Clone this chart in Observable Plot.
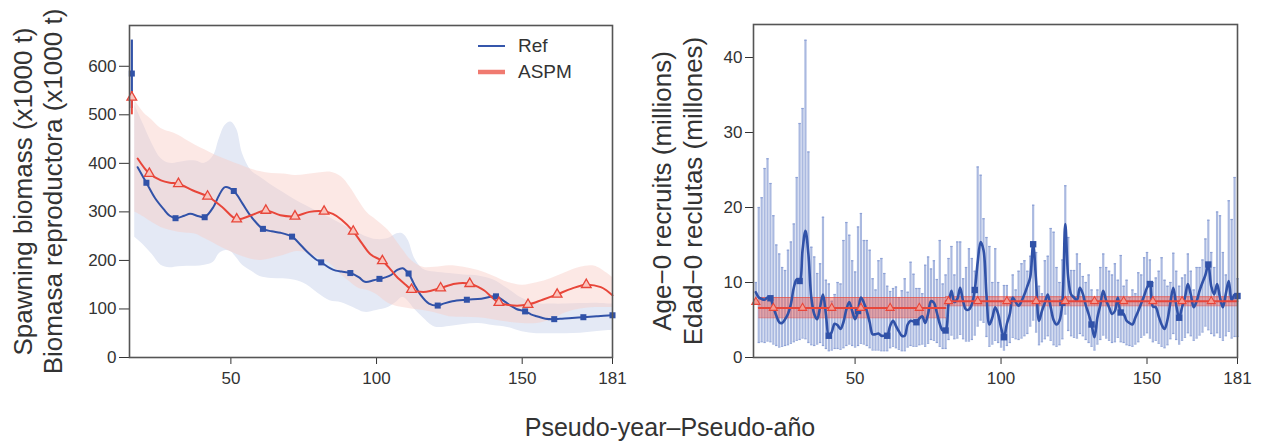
<!DOCTYPE html>
<html><head><meta charset="utf-8">
<script src="https://cdn.jsdelivr.net/npm/d3@7"></script>
<script src="https://cdn.jsdelivr.net/npm/@observablehq/plot@0.6"></script>
<style>
body{margin:0;background:#fff;font-family:"Liberation Sans",Arial,sans-serif;color:#333}
#wrap{position:relative;width:1266px;height:446px;overflow:hidden}
#row{display:flex}
#xlab{position:absolute;left:670px;top:413px;transform:translateX(-50%);font-size:25px;white-space:nowrap;line-height:normal}
#legend{position:absolute;left:476px;top:33px;font-size:19px}
#legend .it{display:flex;align-items:center;height:26px}
#legend span{margin-left:11px}
</style></head><body>
<div id="wrap"><div id="row"></div><div id="xlab">Pseudo-year–Pseudo-año</div>
<div id="legend">
<div class="it"><svg width="31" height="10"><line x1="2" x2="29" y1="5" y2="5" stroke="#3556ab" stroke-width="2"/></svg><span>Ref</span></div>
<div class="it"><svg width="31" height="10"><line x1="2" x2="29" y1="5" y2="5" stroke="#f07a70" stroke-width="4.5"/></svg><span>ASPM</span></div>
</div></div>
<script>
// ---------- shared axes ----------
const xDomain = [15.2, 181];
const xTicks = [50, 100, 150, 181];
const ssbTicks = [0, 100, 200, 300, 400, 500, 600];
const recTicks = [0, 10, 20, 30, 40];
const seriesNames = ["Ref", "ASPM"];

// ---------- left panel: spawning biomass ----------
const refStartYear = 16, refStartSSB = 585, refStartLo = 513, refStartHi = 654;
const aspmStartYear = 16, aspmStartSSB = 536, aspmStartLo = 500, aspmStartHi = 548;

const refYear = [18,21,24,27,29,31,34,36,39,41,44,46,48,51,54,57,61,64,67,71,73,76,79,81,84,86,88,91,94,96,99,101,103,105,107,109,111,113,115,118,121,123,126,131,136,141,144,146,148,151,153,155,158,161,163,166,171,176,181];
const refSSB = [392,360,328,305,292,287,292,296,291,289,310,335,351,343,317,290,265,260,257,249,238,219,203,196,184,179,177,174,165,156,159,162,165,170,180,184,173,150,130,111,107,111,116,119,121,126,115,107,100,95,89,85,80,79,80,81,83,85,87];

const aspmYear = [18,22,26,29,32,37,42,47,52,57,62,67,72,77,82,85,88,92,95,98,102,105,107,110,112,116,119,122,127,132,135,137,140,142,147,152,157,162,167,172,177,179,181];
const aspmSSB = [410,379,365,360,358,344,332,310,285,293,303,293,291,300,301,296,284,260,235,212,199,180,166,150,140,135,138,143,152,152,145,138,122,113,107,109,119,130,142,150,145,138,128];

const refBandYear = [17,20,23,26,29,32,35,38,41,44,46,48,50,52,54,57,60,64,68,72,76,80,84,88,92,96,100,104,107,109,111,113,116,120,125,130,135,140,145,150,155,160,165,170,175,181];
const refBandHi = [520,480,440,410,400,402,405,405,400,415,450,478,485,470,420,385,372,355,340,325,312,300,288,275,262,250,243,245,255,255,240,205,182,176,173,170,168,160,142,122,111,110,110,111,112,110];
const refBandLo = [248,232,212,190,185,187,188,188,190,196,214,220,218,205,190,178,167,163,162,159,150,132,117,113,103,93,97,103,115,124,115,100,82,63,64,68,70,66,62,53,49,49,49,50,53,56];

const aspmBandYear = [17,20,23,26,29,32,35,38,41,44,47,50,53,56,60,64,68,72,76,80,84,88,91,94,97,100,104,108,112,116,120,125,130,135,140,145,150,155,160,165,170,175,181];
const aspmBandHi = [530,505,489,472,465,458,447,437,428,419,411,404,397,390,383,379,378,375,377,380,382,372,350,322,297,283,262,230,200,186,186,189,186,179,168,155,149,154,163,175,186,188,165];
const aspmBandLo = [300,290,278,268,262,258,256,254,245,236,226,218,210,204,200,204,210,218,216,205,193,170,155,142,138,130,112,104,100,97,92,84,83,82,78,73,70,70,78,92,100,103,103];

// ---------- right panel: age-0 recruits (years 16..181) ----------
const recEst = [
8.7,8.0,7.8,7.7,8.0,7.9,6.7,5.6,4.7,4.6,
5.1,5.8,7.1,9.3,10.4,10.2,14.3,16.9,13.8,8.0,
5.8,5.1,6.7,8.4,5.8,2.9,3.4,4.5,4.3,3.8,
4.7,6.4,7.4,6.2,5.1,6.2,8.0,7.3,6.2,4.7,
3.1,3.1,3.2,2.9,2.9,2.9,4.2,4.9,4.2,3.5,
2.9,2.9,4.4,4.9,4.8,4.7,5.2,5.5,4.6,5.8,
7.5,7.3,6.0,4.5,3.6,3.6,7.1,8.9,7.4,7.8,
9.3,7.5,6.4,6.4,7.1,9.0,12.7,15.4,14.3,8.4,
4.4,5.3,6.7,5.8,4.0,2.7,4.5,5.8,8.0,7.4,
6.9,7.5,8.4,9.5,10.7,15.1,10.2,4.9,6.2,7.3,
8.4,6.7,5.0,4.4,4.9,7.3,17.8,10.7,8.4,8.0,
7.6,9.3,8.5,7.0,5.8,4.4,2.7,5.3,7.0,8.9,
7.6,6.7,5.8,6.2,8.0,6.0,5.8,4.9,4.6,4.4,
5.3,6.2,7.2,8.2,9.3,9.8,6.8,6.7,5.5,4.4,
3.8,5.0,7.3,9.3,7.0,5.3,6.7,8.0,9.8,8.4,
6.7,7.5,8.9,10.0,11.0,12.4,9.5,8.4,9.8,8.0,
6.7,8.5,10.2,7.6,8.4,8.2];
const recHi = [
10.0,20.0,21.3,25.2,26.5,23.2,18.9,15.0,13.8,12.0,
11.6,14.3,15.4,17.8,24.0,31.2,33.2,42.3,27.4,14.7,
13.4,11.2,12.5,18.7,10.3,9.8,7.5,8.4,10.0,9.8,
15.6,18.0,16.3,12.9,11.4,17.4,19.2,15.6,15.6,14.3,
10.5,9.0,12.9,13.2,11.2,9.5,8.8,9.2,9.4,8.0,
8.9,10.5,8.7,12.7,11.1,9.2,9.2,8.5,12.3,13.4,
11.8,12.9,10.4,15.6,9.8,11.0,13.2,14.8,11.0,15.4,
15.4,10.5,12.0,14.5,13.2,11.5,25.4,24.3,18.5,16.0,
14.8,10.0,14.5,10.0,7.6,9.6,9.6,8.0,11.0,9.0,
11.5,12.5,12.9,11.5,13.5,20.3,14.0,9.5,8.5,12.9,
13.5,17.2,16.7,12.0,10.0,13.0,22.9,16.0,11.6,11.6,
13.8,12.5,10.8,10.0,11.0,9.0,7.6,9.0,12.0,13.8,
12.0,11.5,11.0,12.5,10.3,13.6,9.5,10.3,8.0,9.0,
8.5,11.3,11.0,13.3,14.0,13.0,10.0,10.6,11.5,13.3,
10.3,9.5,10.0,13.9,11.5,9.5,10.6,11.0,13.8,11.5,
9.0,12.0,12.0,13.0,15.8,18.3,14.0,12.0,19.4,18.9,
14.0,11.0,20.9,18.4,24.0,10.5];
const recLo = [
7.5,2.0,2.1,2.0,2.2,2.1,1.8,1.6,1.4,1.5,
1.6,1.7,1.9,2.1,2.3,2.4,2.6,2.5,2.0,1.7,
1.6,1.8,2.0,1.6,1.2,0.9,1.0,1.2,1.2,1.1,
1.3,1.6,1.8,1.6,1.4,1.6,1.9,1.8,1.6,1.3,
1.0,1.0,1.0,0.9,0.9,0.9,1.3,1.5,1.3,1.1,
0.9,0.9,1.4,1.6,1.5,1.5,1.7,1.8,1.5,1.9,
2.4,2.3,2.0,1.5,1.2,1.2,2.4,3.0,2.5,2.6,
3.1,2.5,2.2,2.2,2.4,3.0,4.2,5.0,4.7,2.8,
1.5,1.8,2.3,2.0,1.4,1.0,1.6,2.0,2.7,2.5,
2.4,2.6,2.9,3.2,4.2,5.0,3.4,1.7,2.1,2.5,
2.9,2.3,1.7,1.5,1.7,2.5,5.8,3.6,2.9,2.7,
2.6,3.2,2.9,2.4,2.0,1.5,1.0,1.8,2.4,3.0,
2.6,2.3,2.0,2.1,2.7,2.1,2.0,1.7,1.6,1.5,
1.8,2.1,2.7,3.0,3.3,2.6,2.1,2.3,1.9,1.5,
1.3,1.7,2.5,3.2,2.4,1.8,2.3,2.7,3.3,2.9,
2.3,2.6,3.0,3.4,4.2,3.7,3.2,2.9,3.3,2.7,
2.3,2.9,3.5,2.6,2.8,2.8];

// ASPM recruitment by stanza
const aspmRecStanza = ["early","early","late","late"];
const aspmRecYear = [17, 81, 81, 181];
const aspmRecMean = [6.6, 6.6, 7.5, 7.5];
const aspmRecLo = [5.3, 5.3, 6.9, 6.9];
const aspmRecHi = [8.0, 8.0, 8.1, 8.1];
const aspmRecStartYear = 16, aspmRecStart = 7.4;

// ---------- styling ----------
const BLUE = "#3152a8", RED = "#e8463a";
const FONT = "Liberation Sans, Arial, sans-serif";
const baseStyle = {fontFamily: FONT, fontSize: "17px", color: "#333", background: "white", overflow: "visible"};

function frameMarks() {
  return Plot.frame({stroke: "#555", strokeWidth: 1.6});
}

// ---------- left plot ----------
const ref = refYear.map((x, i) => ({x, y: refSSB[i]}));
const aspm = aspmYear.map((x, i) => ({x, y: aspmSSB[i]}));
const refBand = refBandYear.map((x, i) => ({x, lo: refBandLo[i], hi: refBandHi[i]}));
const aspmBand = aspmBandYear.map((x, i) => ({x, lo: aspmBandLo[i], hi: aspmBandHi[i]}));
const refMarkers = ref.filter(d => (d.x - 21) % 10 === 0);
const aspmMarkers = aspm.filter(d => (d.x - 22) % 10 === 0 && d.x <= 172);

const left = Plot.plot({
  width: 633, height: 400,
  marginLeft: 129, marginRight: 21, marginTop: 25, marginBottom: 43,
  style: baseStyle,
  x: {domain: xDomain, ticks: xTicks, tickSize: 7, tickPadding: 7, label: null},
  y: {domain: [0, 684], ticks: ssbTicks, tickSize: 10, tickPadding: 3, label: null},
  marks: [
    Plot.areaY(refBand, {x: "x", y1: "lo", y2: "hi", fill: "#e4e9f5", curve: "catmull-rom"}),
    Plot.areaY(aspmBand, {x: "x", y1: "lo", y2: "hi", fill: "#f9cbc6", fillOpacity: 0.45, curve: "catmull-rom"}),
    Plot.ruleX([{x: refStartYear, lo: refStartLo, hi: refStartHi}], {x: "x", y1: "lo", y2: "hi", stroke: BLUE, strokeWidth: 2.2}),
    Plot.ruleX([{x: aspmStartYear, lo: aspmStartLo, hi: aspmStartHi}], {x: "x", y1: "lo", y2: "hi", stroke: RED, strokeWidth: 2}),
    Plot.dot([{x: refStartYear, y: refStartSSB}], {x: "x", y: "y", symbol: "square", r: 3.4, fill: BLUE}),
    Plot.dot([{x: aspmStartYear, y: aspmStartSSB}], {x: "x", y: "y", symbol: "triangle", r: 3.6, stroke: RED, fill: "#f9c4bd", strokeWidth: 1.3}),
    Plot.line(ref, {x: "x", y: "y", stroke: BLUE, strokeWidth: 2, curve: "catmull-rom"}),
    Plot.line(aspm, {x: "x", y: "y", stroke: RED, strokeWidth: 2, curve: "catmull-rom"}),
    Plot.dot(refMarkers, {x: "x", y: "y", symbol: "square", r: 3.4, fill: BLUE}),
    Plot.dot(aspmMarkers, {x: "x", y: "y", symbol: "triangle", r: 3.6, stroke: RED, fill: "#f9c4bd", strokeWidth: 1.3}),
    Plot.text(["Spawning biomass (x1000 t)"], {frameAnchor: "left", textAnchor: "middle", dx: -106, rotate: -90, fontSize: 26, fill: "#333", fontFamily: FONT}),
    Plot.text(["Biomasa reproductora (x1000 t)"], {frameAnchor: "left", textAnchor: "middle", dx: -76, rotate: -90, fontSize: 26, fill: "#333", fontFamily: FONT}),
    frameMarks()
  ]
});

// ---------- right plot ----------
const years = d3.range(16, 182);
const rec = years.map((x, i) => ({x, est: recEst[i], lo: recLo[i], hi: recHi[i]}));
const recMarkers = rec.filter(d => (d.x - 21) % 10 === 0);
const aspmRec = aspmRecYear.map((x, i) => ({x, s: aspmRecStanza[i], m: aspmRecMean[i], lo: aspmRecLo[i], hi: aspmRecHi[i]}));
const aspmRecMarkers = d3.range(22, 173, 10).map(x => ({x, m: x < aspmRecYear[1] ? aspmRecMean[0] : aspmRecMean[2]}));

const right = Plot.plot({
  width: 633, height: 400,
  marginLeft: 120, marginRight: 29, marginTop: 24, marginBottom: 43,
  style: baseStyle,
  x: {domain: xDomain, ticks: xTicks, tickSize: 7, tickPadding: 7, label: null},
  y: {domain: [0, 44.4], ticks: recTicks, tickSize: 8, tickPadding: 3, label: null},
  marks: [
    Plot.ruleX(rec, {x: "x", y1: "lo", y2: "hi", stroke: "#8ea2d6", strokeOpacity: 0.75, strokeWidth: 2.2}),
    Plot.link(rec, {x1: d => d.x - 0.4, x2: d => d.x + 0.4, y1: "hi", y2: "hi", stroke: "#8ea2d6", strokeWidth: 1.2}),
    Plot.link(rec, {x1: d => d.x - 0.4, x2: d => d.x + 0.4, y1: "lo", y2: "lo", stroke: "#8ea2d6", strokeWidth: 1.2}),
    Plot.areaY(aspmRec, {x: "x", y1: "lo", y2: "hi", z: "s", fill: "#ef5a4e", fillOpacity: 0.45}),
    Plot.line(aspmRec, {x: "x", y: "lo", z: "s", stroke: RED, strokeOpacity: 0.6, strokeWidth: 1}),
    Plot.line(aspmRec, {x: "x", y: "hi", z: "s", stroke: RED, strokeOpacity: 0.6, strokeWidth: 1}),
    Plot.line(rec, {x: "x", y: "est", stroke: BLUE, strokeWidth: 2.6, curve: "catmull-rom"}),
    Plot.dot(recMarkers, {x: "x", y: "est", symbol: "square", r: 3.6, fill: BLUE}),
    Plot.line(aspmRec, {x: "x", y: "m", z: "s", stroke: RED, strokeWidth: 1.8}),
    Plot.dot(aspmRecMarkers, {x: "x", y: "m", symbol: "triangle", r: 3, stroke: RED, fill: "#f49a90", strokeWidth: 1.1}),
    Plot.dot([{x: aspmRecStartYear, m: aspmRecStart}], {x: "x", y: "m", symbol: "triangle", r: 3, stroke: RED, fill: "#f49a90", strokeWidth: 1.1}),
    Plot.text(["Age\u22120 recruits (millions)"], {frameAnchor: "left", textAnchor: "middle", dx: -91, rotate: -90, fontSize: 26, fill: "#333", fontFamily: FONT}),
    Plot.text(["Edad\u22120 reclutas (millones)"], {frameAnchor: "left", textAnchor: "middle", dx: -60, rotate: -90, fontSize: 26, fill: "#333", fontFamily: FONT}),
    frameMarks()
  ]
});

document.getElementById("row").append(left, right);
</script>
</body></html>
